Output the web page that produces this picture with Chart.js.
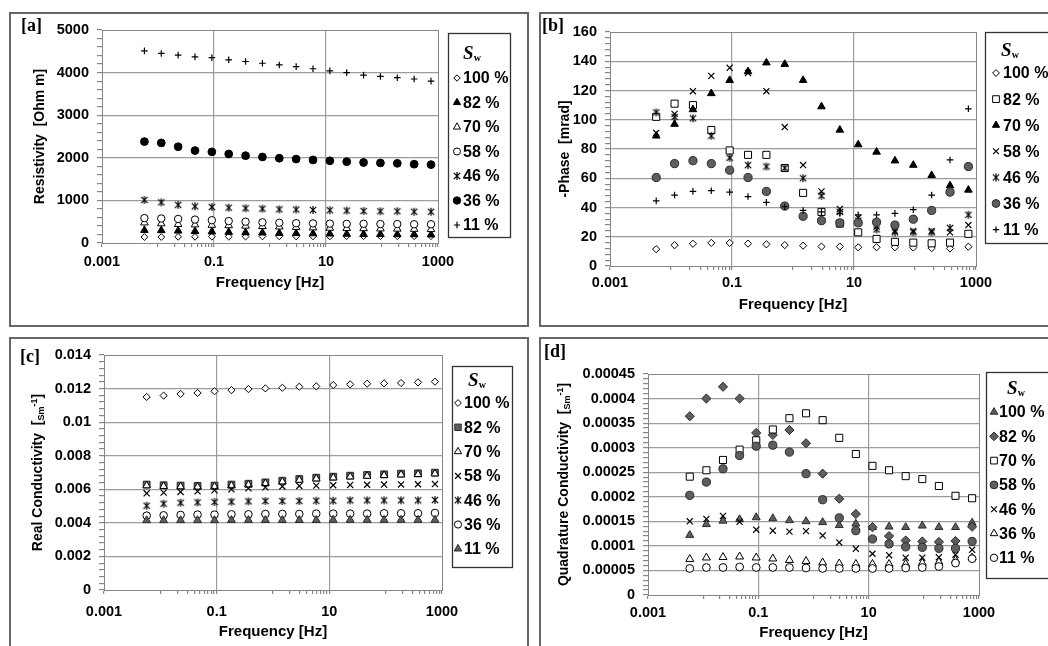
<!DOCTYPE html>
<html><head><meta charset="utf-8">
<script src="https://cdn.jsdelivr.net/npm/chart.js@4/dist/chart.umd.min.js"></script>
<style>
html,body{margin:0;padding:0;background:#fff;}
body{width:1048px;height:646px;overflow:hidden;position:relative;}
.frame{position:absolute;border:2px solid #666;box-sizing:border-box;}
.plab{position:absolute;font-family:"Liberation Serif",serif;font-weight:bold;font-size:18px;line-height:1;color:#000;z-index:5;}
canvas{position:absolute;left:0;top:0;}
</style></head><body>
<div class="frame" style="left:9px;top:12px;width:520px;height:315px"></div>
<div class="frame" style="left:539px;top:12px;width:530px;height:315px"></div>
<div class="frame" style="left:9px;top:337px;width:520px;height:330px"></div>
<div class="frame" style="left:539px;top:337px;width:530px;height:330px"></div>
<canvas id="ca" width="1048" height="646"></canvas>
<canvas id="cb" width="1048" height="646"></canvas>
<canvas id="cc" width="1048" height="646"></canvas>
<canvas id="cd" width="1048" height="646"></canvas>
<div class="plab" style="left:21px;top:16px">[a]</div>
<div class="plab" style="left:542px;top:16px">[b]</div>
<div class="plab" style="left:20px;top:347px">[c]</div>
<div class="plab" style="left:544px;top:342px">[d]</div>
<script>
// ---------------- data ----------------
const frequencies = [0.00572, 0.01144, 0.02289, 0.04578, 0.09155, 0.1831, 0.3662, 0.7324, 1.465, 2.93, 5.859, 11.72, 23.44, 46.88, 93.75, 187.5, 375, 750];
const swLabels = ['100 %', '82 %', '70 %', '58 %', '46 %', '36 %', '11 %'];

const xLabelValues = [0.001, 0.1, 10, 1000];
const xLabelTexts = ['0.001', '0.1', '10', '1000'];

// [a] Resistivity [Ohm m]
const aS100 = [140,140,145,145,150,150,150,155,155,155,155,155,160,160,160,160,160,160];
const aS82  = [300,295,285,275,265,255,245,240,230,225,220,215,210,205,205,200,200,195];
const aS70  = [475,455,440,430,420,410,400,390,380,370,360,350,345,340,335,330,325,320];
const aS58  = [585,575,565,550,535,515,500,485,475,465,460,455,450,450,445,445,440,440];
const aS46  = [1010,955,895,860,845,830,815,805,790,785,775,770,760,750,745,745,735,735];
const aS36  = [2380,2350,2260,2170,2140,2090,2050,2020,1990,1970,1950,1930,1910,1890,1880,1870,1850,1840];
const aS11  = [4510,4450,4410,4370,4350,4300,4260,4220,4180,4140,4090,4040,4000,3940,3910,3880,3850,3800];
const aYTicks = ['0','1000','2000','3000','4000','5000'];

// [b] -Phase [mrad]
const bS100 = [11.5,14.2,15.2,15.8,15.8,15.3,14.8,14.3,13.9,13.3,13.3,12.8,12.8,12.8,12.6,12.2,12.0,13.2];
const bS82  = [102,111,110,93,79,76,76,67,50,37,29,23,18.5,16.5,16,15.5,16,22];
const bS70  = [89,97,107,118,127,133,139,138,127,109,93,83,78,72,69,62,55,52];
const bS58  = [91,104,119.5,130,135.5,132,119.5,95,69,51,39,33,27,24,24,24,23,28];
const bS46  = [105,102,101,89,74,69,68,67,60,48,37,31,25,23,23,23,26,35];
const bS36  = [60.5,70,72,70,65.5,60.5,51,41,34,31,29.5,29.5,30,28,32,38,50.5,68];
const bS11  = [44.5,48.5,51,51.5,50.5,47.5,43.5,40.5,38,37,36,35,35,36,38.5,48.5,72.5,107.5];
const bYTicks = ['0','20','40','60','80','100','120','140','160'];

// [c] Real Conductivity [S/m]
const cS100 = [0.0115,0.01158,0.01168,0.01174,0.01184,0.01191,0.01197,0.01201,0.01205,0.01211,0.01213,0.01221,0.01225,0.01229,0.01231,0.01233,0.01237,0.01241];
const cS82  = [0.00628,0.00624,0.00622,0.0062,0.00622,0.00628,0.00633,0.00641,0.00651,0.00661,0.00669,0.00675,0.00681,0.00685,0.00689,0.00693,0.00695,0.00699];
const cS70  = [0.00622,0.00618,0.00616,0.00614,0.00616,0.00622,0.00627,0.00635,0.00645,0.00655,0.00663,0.00669,0.00675,0.00679,0.00683,0.00687,0.00689,0.00693];
const cS58  = [0.00576,0.0058,0.00584,0.00588,0.00594,0.006,0.00606,0.00612,0.00617,0.0062,0.00622,0.00624,0.00626,0.00627,0.00628,0.00629,0.0063,0.00631];
const cS46  = [0.00502,0.00514,0.0052,0.00522,0.00524,0.00526,0.00528,0.0053,0.0053,0.0053,0.00532,0.00532,0.00534,0.00534,0.00534,0.00534,0.00534,0.00536];
const cS36  = [0.00443,0.00445,0.00447,0.00449,0.00449,0.00451,0.00451,0.00453,0.00453,0.00453,0.00455,0.00455,0.00455,0.00455,0.00457,0.00457,0.00457,0.00459];
const cS11  = [0.00415,0.00415,0.00415,0.00415,0.00415,0.00416,0.00416,0.00416,0.00416,0.00416,0.00416,0.00417,0.00417,0.00417,0.00417,0.00417,0.00417,0.00417];
const cYTicks = ['0','0.002','0.004','0.006','0.008','0.01','0.012','0.014'];

// [d] Quadrature Conductivity [S/m]
const dS100 = [0.000122,0.000144,0.000151,0.000154,0.000158,0.000156,0.000152,0.00015,0.000148,0.000142,0.000145,0.000138,0.000139,0.000138,0.000141,0.000138,0.000138,0.000147];
const dS82  = [0.000364,0.0004,0.000424,0.0004,0.00033,0.000326,0.000336,0.000309,0.000247,0.000196,0.000165,0.000138,0.00012,0.000111,0.000109,0.000108,0.00011,0.000139];
const dS70  = [0.000241,0.000254,0.000275,0.000296,0.000315,0.000337,0.00036,0.00037,0.000356,0.00032,0.000287,0.000263,0.000254,0.000242,0.000236,0.000222,0.000202,0.000197];
const dS58  = [0.000203,0.00023,0.000257,0.000284,0.000303,0.000305,0.000291,0.000247,0.000194,0.000157,0.000131,0.000114,0.000104,0.000098,0.000097,0.000095,0.000095,0.000109];
const dS46  = [0.00015,0.000155,0.000161,0.000149,0.000133,0.000131,0.000129,0.00013,0.000121,0.000107,0.000094,0.000084,0.000081,0.000076,0.000076,0.000077,0.000082,0.000092];
const dS36  = [0.000073,0.000076,0.000077,0.000078,0.000076,0.000074,0.000071,0.000069,0.000066,0.000064,0.000063,0.000063,0.000063,0.000063,0.000065,0.000067,0.000071,0.000076];
const dS11  = [0.000054,0.000056,0.000056,0.000057,0.000056,0.000056,0.000056,0.000055,0.000054,0.000054,0.000054,0.000054,0.000054,0.000055,0.000056,0.000058,0.000065,0.000074];
const dYTicks = ['0','0.00005','0.0001','0.00015','0.0002','0.00025','0.0003','0.00035','0.0004','0.00045'];

// ---------------- styling ----------------
const FONT = '"Liberation Sans", Arial, sans-serif';
const GRID = '#9c9c9c', AXIS = '#868686', GRAY = '#5e5e5e', EDGE = '#2a2a2a';

// asterisk marker (x with vertical bar)
const AST = document.createElement('canvas');
AST.width = 10; AST.height = 10;
(function(){
  const c = AST.getContext('2d');
  c.strokeStyle = '#000'; c.lineWidth = 1.2; c.lineCap = 'butt';
  c.beginPath();
  c.moveTo(1.8,1.8); c.lineTo(8.2,8.2);
  c.moveTo(8.2,1.8); c.lineTo(1.8,8.2);
  c.moveTo(5,1); c.lineTo(5,9);
  c.stroke();
})();

function mk(style, r, bg, bc, bw) {
  return {pointStyle: style, pointRadius: r, pointBackgroundColor: bg, pointBorderColor: bc, pointBorderWidth: bw};
}
const W = '#ffffff', B = '#000000';
const aStyles = [mk('rectRot',3.4,W,B,1), mk('triangle',4.4,B,B,1), mk('triangle',4.4,W,B,1), mk('circle',3.7,W,B,1), mk(AST,4,B,B,1), mk('circle',3.9,B,B,1), mk('cross',3.3,B,B,1.2)];
const bStyles = [mk('rectRot',3.6,W,B,1), mk('rect',5,W,B,1), mk('triangle',4.4,B,B,1), mk('crossRot',4.3,B,B,1.2), mk(AST,4,B,B,1), mk('circle',4.1,GRAY,EDGE,1), mk('cross',3.3,B,B,1.2)];
const cStyles = [mk('rectRot',3.6,W,B,1), mk('rect',4.8,GRAY,EDGE,1), mk('triangle',4.4,W,B,1), mk('crossRot',4.3,B,B,1.2), mk(AST,4,B,B,1), mk('circle',3.8,W,B,1), mk('triangle',4.6,GRAY,EDGE,1)];
const dStyles = [mk('triangle',4.6,GRAY,EDGE,1), mk('rectRot',4.6,GRAY,EDGE,1), mk('rect',5,W,B,1), mk('circle',4.1,GRAY,EDGE,1), mk('crossRot',4.3,B,B,1.2), mk('triangle',4.6,W,B,1), mk('circle',3.9,W,B,1)];

function buildDatasets(series, styles) {
  return series.map((vals, i) => Object.assign({
    label: swLabels[i],
    data: frequencies.map((f, k) => ({x: f, y: vals[k]})),
    showLine: false,
    order: series.length - i
  }, styles[i]));
}

// x minor tick positions: 1..9 x 10^e for every other decade, plus labelled majors
function xTickPositions() {
  const out = [0.001];
  [-2, 0, 2].forEach(e => {
    for (let k = 1; k <= 9; k++) out.push(Number((k * Math.pow(10, e)).toPrecision(6)));
    out.push(Number(Math.pow(10, e + 1).toPrecision(6)));
  });
  return out;
}
function xLabelFor(v) {
  for (let i = 0; i < xLabelValues.length; i++) {
    if (Math.abs(Math.log10(v) - Math.log10(xLabelValues[i])) < 1e-6) return xLabelTexts[i];
  }
  return '';
}
function isInnerMajor(v) {
  return Math.abs(Math.log10(v) + 1) < 1e-6 || Math.abs(Math.log10(v) - 1) < 1e-6;
}

// ---------------- plugins ----------------
const plotBorder = {
  id: 'plotBorder',
  beforeDatasetsDraw(chart) {
    const {ctx, chartArea: a} = chart;
    ctx.save();
    ctx.strokeStyle = AXIS; ctx.lineWidth = 1;
    ctx.strokeRect(Math.round(a.left) + 0.5, Math.round(a.top) + 0.5, Math.round(a.right - a.left), Math.round(a.bottom - a.top));
    ctx.restore();
  }
};

const boxLegend = {
  id: 'boxLegend',
  afterDraw(chart, args, o) {
    const ctx = chart.ctx;
    ctx.save();
    ctx.fillStyle = '#fff'; ctx.strokeStyle = '#333'; ctx.lineWidth = 1.3;
    ctx.fillRect(o.x, o.y, o.w, o.h);
    ctx.strokeRect(o.x + 0.5, o.y + 0.5, o.w, o.h);
    // title  S_w
    ctx.fillStyle = '#000'; ctx.textBaseline = 'alphabetic'; ctx.textAlign = 'left';
    ctx.font = 'italic bold 19px "Liberation Serif", serif';
    const sW = ctx.measureText('S').width;
    ctx.font = 'bold 10px "Liberation Serif", serif';
    const wW = ctx.measureText('w').width;
    const tx = o.titleX - (sW + wW) / 2;
    ctx.font = 'italic bold 19px "Liberation Serif", serif';
    ctx.fillText('S', tx, o.titleY + 6);
    ctx.font = 'bold 10px "Liberation Serif", serif';
    ctx.fillText('w', tx + sW, o.titleY + 8);
    chart.data.datasets.forEach((ds, i) => {
      const y = o.firstY + i * o.step;
      ctx.save();
      ctx.fillStyle = ds.pointBackgroundColor;
      ctx.strokeStyle = ds.pointBorderColor;
      ctx.lineWidth = ds.pointBorderWidth;
      Chart.helpers.drawPoint(ctx, {pointStyle: ds.pointStyle, radius: ds.pointRadius * 0.95, rotation: 0, borderWidth: ds.pointBorderWidth}, o.markerX, y);
      ctx.restore();
      ctx.fillStyle = '#000';
      ctx.font = 'bold 16px ' + FONT;
      ctx.textBaseline = 'middle'; ctx.textAlign = 'left';
      ctx.fillText(ds.label, o.textX, y + 1);
    });
    ctx.restore();
  }
};

const richYTitle = {
  id: 'richYTitle',
  afterDraw(chart, args, o) {
    if (!o || !o.show) return;
    const ctx = chart.ctx, ca = chart.chartArea;
    const parts = [
      {t: o.text + '  [', s: 14, dy: 0},
      {t: 'Sm', s: 9, dy: 2},
      {t: '-1', s: 9, dy: -5},
      {t: ']', s: 14, dy: 0}
    ];
    ctx.save();
    ctx.translate(o.x, (ca.top + ca.bottom) / 2);
    ctx.rotate(-Math.PI / 2);
    ctx.fillStyle = '#000'; ctx.textBaseline = 'alphabetic'; ctx.textAlign = 'left';
    const widths = parts.map(p => { ctx.font = 'bold ' + p.s + 'px ' + FONT; return ctx.measureText(p.t).width; });
    let cx = -widths.reduce((a, b) => a + b, 0) / 2;
    parts.forEach((p, i) => {
      ctx.font = 'bold ' + p.s + 'px ' + FONT;
      ctx.fillText(p.t, cx, 5 + p.dy);
      cx += widths[i];
    });
    ctx.restore();
  }
};

// ---------------- chart builder ----------------
function makeChart(id, g) {
  const yLH = 14 * 1.2, xLH = 15 * 1.2;
  const padLeft = g.rich ? g.left - 70 : g.yTitleX - yLH / 2;
  const yW = g.left - padLeft;
  const xBottom = g.xTitleY + xLH / 2;
  const xH = xBottom - g.bottom;
  const nMinor = Math.round(g.yMax / g.yMinor);
  new Chart(document.getElementById(id), {
    type: 'scatter',
    data: {datasets: buildDatasets(g.series, g.styles)},
    plugins: [plotBorder, boxLegend, richYTitle],
    options: {
      responsive: false, animation: false, events: [],
      layout: {padding: {left: padLeft, top: g.top, right: 1048 - g.right, bottom: 646 - xBottom}},
      plugins: {
        legend: {display: false}, tooltip: {enabled: false},
        boxLegend: g.legend,
        richYTitle: {show: !!g.rich, text: g.richText || '', x: g.yTitleX}
      },
      scales: {
        x: {
          type: 'logarithmic', position: 'bottom', min: 0.001, max: 1000,
          afterFit: s => { s.height = xH; },
          afterBuildTicks: s => { s.ticks = xTickPositions().map(v => ({value: v})); },
          ticks: {autoSkip: false, maxRotation: 0, minRotation: 0, padding: g.xTickPad, color: '#000',
                  font: {family: FONT, size: 14.5, weight: 'bold'},
                  callback: v => xLabelFor(v)},
          grid: {drawTicks: true, tickLength: 4,
                 color: c => (c.tick && isInnerMajor(c.tick.value)) ? GRID : 'rgba(0,0,0,0)',
                 tickColor: AXIS, lineWidth: 1.2},
          border: {display: true, color: AXIS, width: 1},
          title: {display: true, text: 'Frequency [Hz]', color: '#000', padding: 0,
                  font: {family: FONT, size: 15, weight: 'bold'}}
        },
        y: {
          type: 'linear', position: 'left', min: 0, max: g.yMax,
          afterFit: s => { s.width = yW; },
          afterBuildTicks: s => { const t = []; for (let i = 0; i <= nMinor; i++) t.push({value: i * g.yMinor}); s.ticks = t; },
          ticks: {autoSkip: false, padding: 8, color: '#000',
                  font: {family: FONT, size: 14.5, weight: 'bold'},
                  callback: (v, i) => (i % 5 === 0 ? g.yTicks[i / 5] : '')},
          grid: {drawTicks: true, tickLength: 5,
                 color: c => (c.index % 5 === 0 && c.index > 0 && c.index < nMinor) ? GRID : 'rgba(0,0,0,0)',
                 tickColor: AXIS, lineWidth: 1.2},
          border: {display: true, color: AXIS, width: 1},
          title: {display: !g.rich, text: g.yTitle || '', color: '#000', padding: {top: 0, bottom: 0},
                  font: {family: FONT, size: 14, weight: 'bold'}}
        }
      }
    }
  });
}

makeChart('ca', {
  left: 102, top: 30, right: 438, bottom: 243, yTitleX: 40, xTitleY: 283, xTickPad: 6.4,
  yMax: 5000, yMinor: 200, yTicks: aYTicks, yTitle: 'Resistivity  [Ohm m]',
  series: [aS100, aS82, aS70, aS58, aS46, aS36, aS11], styles: aStyles,
  legend: {x: 448, y: 33, w: 62, h: 204, titleX: 472, titleY: 53, firstY: 78, step: 24.5, markerX: 457, textX: 463}
});
makeChart('cb', {
  left: 610, top: 32, right: 976, bottom: 266, yTitleX: 565, xTitleY: 305, xTickPad: 4.4,
  yMax: 160, yMinor: 4, yTicks: bYTicks, yTitle: '-Phase  [mrad]',
  series: [bS100, bS82, bS70, bS58, bS46, bS36, bS11], styles: bStyles,
  legend: {x: 985, y: 32, w: 80, h: 211, titleX: 1010, titleY: 50, firstY: 73, step: 26.1, markerX: 996, textX: 1003}
});
makeChart('cc', {
  left: 104, top: 355, right: 442, bottom: 590, yTitleX: 37, xTitleY: 632, xTickPad: 8.8,
  yMax: 0.014, yMinor: 0.0004, yTicks: cYTicks, rich: true, richText: 'Real Conductivity',
  series: [cS100, cS82, cS70, cS58, cS46, cS36, cS11], styles: cStyles,
  legend: {x: 452, y: 366, w: 60, h: 201, titleX: 477, titleY: 380, firstY: 403, step: 24.3, markerX: 458, textX: 464}
});
makeChart('cd', {
  left: 648, top: 374, right: 979, bottom: 595, yTitleX: 563, xTitleY: 633, xTickPad: 5.1,
  yMax: 0.00045, yMinor: 0.00001, yTicks: dYTicks, rich: true, richText: 'Quadrature Conductivity',
  series: [dS100, dS82, dS70, dS58, dS46, dS36, dS11], styles: dStyles,
  legend: {x: 986, y: 372, w: 80, h: 206, titleX: 1016, titleY: 388, firstY: 412, step: 24.3, markerX: 994, textX: 999}
});
</script>
</body></html>
